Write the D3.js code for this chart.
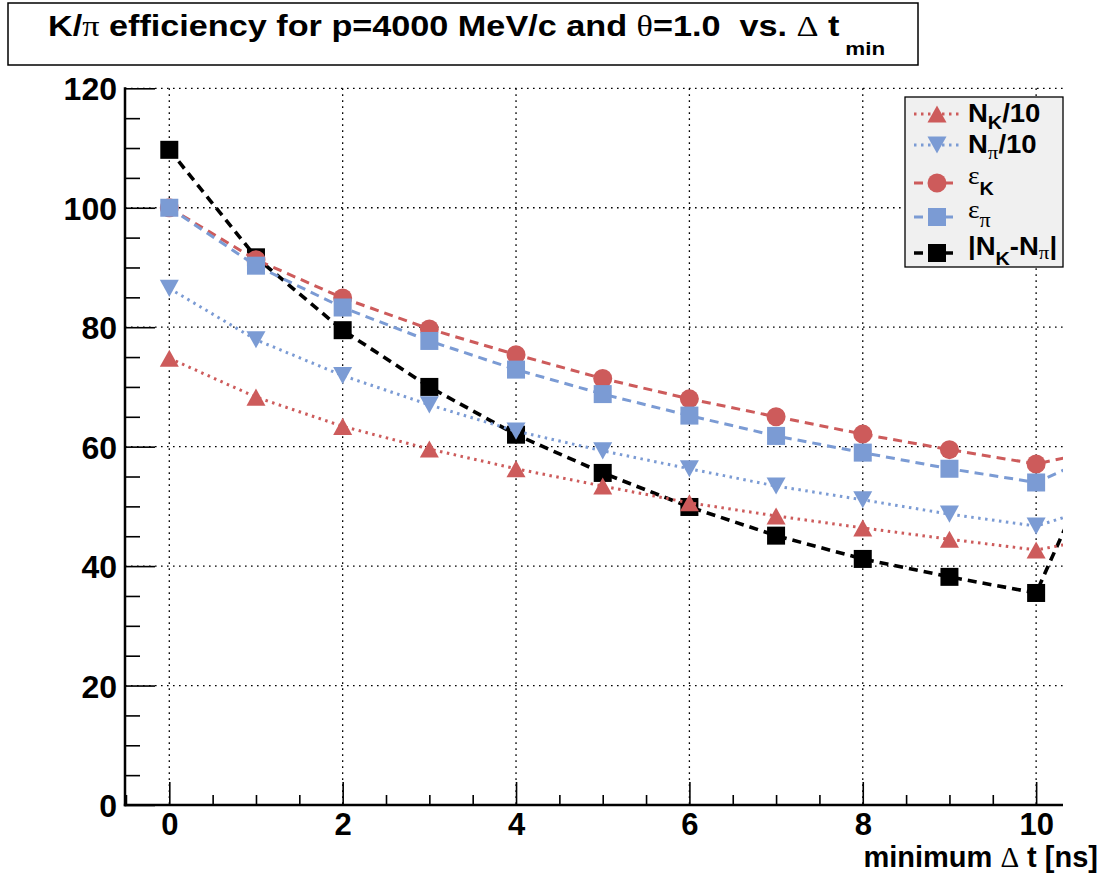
<!DOCTYPE html>
<html>
<head>
<meta charset="utf-8">
<script src="https://d3js.org/d3.v7.min.js"></script>
<style>
  body { margin: 0; background: #fff; }
  text { font-family: "Liberation Sans", Arial, sans-serif; font-weight: bold; white-space: pre; }
  .greek { font-family: "Liberation Serif", "DejaVu Serif", serif; font-weight: normal; }
</style>
</head>
<body>
<svg width="1102" height="878"></svg>
<script>
// Data: delta t cut (ns) and the five curves; the last point lies past the frame edge
const tVals = [0, 1, 2, 3, 4, 5, 6, 7, 8, 9, 10, 11];
const nK10 = [74.8, 68.3, 63.4, 59.6, 56.3, 53.4, 50.6, 48.4, 46.4, 44.5, 42.7, 45.4];
const nPi10 = [86.5, 77.9, 71.9, 67.0, 62.6, 59.3, 56.3, 53.4, 51.1, 48.7, 46.7, 51.2];
const effK = [100, 91.3, 84.9, 79.7, 75.4, 71.4, 68.0, 65.0, 62.1, 59.5, 57.1, 60.2];
const effPi = [100, 90.3, 83.3, 77.7, 72.9, 68.8, 65.2, 61.8, 59.0, 56.3, 54.0, 60.5];
const diffN = [109.7, 91.7, 79.5, 70.0, 62.0, 55.6, 49.9, 45.1, 41.2, 38.2, 35.5, 68.0];

const xTicks = [0, 2, 4, 6, 8, 10];
const yTicks = [0, 20, 40, 60, 80, 100, 120];

const red = "#cd5b5b", blue = "#7b9bd4";

const svg = d3.select("svg");
const frame = { left: 125, right: 1063, top: 88.3, bottom: 805 };

const x = d3.scaleLinear().domain([-0.511, 10.31]).range([frame.left, frame.right]);
const y = d3.scaleLinear().domain([0, 120]).range([frame.bottom, frame.top]);

// Title box (ROOT text is drawn a little wider than Liberation Sans)
svg.append("rect").attr("x", 8).attr("y", 3).attr("width", 910).attr("height", 62)
    .attr("fill", "#fff").attr("stroke", "#000").attr("stroke-width", 1.5);
const title = svg.append("text").attr("transform", "translate(48,36) scale(1.18,1)").attr("font-size", 29);
title.append("tspan").text("K/");
title.append("tspan").attr("class", "greek").text("π");
title.append("tspan").text(" efficiency for p=4000 MeV/c and ");
title.append("tspan").attr("class", "greek").text("θ");
title.append("tspan").text("=1.0  vs. ");
title.append("tspan").attr("class", "greek").text("Δ");
title.append("tspan").text(" t");
title.append("tspan").attr("font-size", 19).attr("dx", 5).attr("dy", 19).text("min");

// Grid
const grid = svg.append("g").attr("stroke", "#000").attr("stroke-width", 1.3)
    .attr("stroke-dasharray", "1.6,4.4");
grid.selectAll(".gx").data(xTicks).enter().append("line")
    .attr("x1", d => x(d)).attr("x2", d => x(d))
    .attr("y1", frame.top).attr("y2", frame.bottom);
grid.selectAll(".gy").data(yTicks.slice(1)).enter().append("line")
    .attr("x1", frame.left).attr("x2", frame.right)
    .attr("y1", d => y(d)).attr("y2", d => y(d));

// Axes: ticks inside the frame
const minorX = d3.range(-0.5, 10.31, 0.5).filter(v => Math.abs(v % 2) > 1e-6);
const minorY = d3.range(5, 120, 5).filter(v => v % 20 !== 0);

function styleAxis(g) {
    g.select(".domain").remove();
    g.selectAll(".tick line").attr("stroke", "#000").attr("stroke-width", 1.6);
}
svg.append("g").attr("transform", `translate(${frame.left},0)`)
    .call(d3.axisRight(y).tickValues(yTicks).tickSize(30).tickFormat(""))
    .call(styleAxis);
svg.append("g").attr("transform", `translate(${frame.left},0)`)
    .call(d3.axisRight(y).tickValues(minorY).tickSize(15).tickFormat(""))
    .call(styleAxis);
svg.append("g").attr("transform", `translate(0,${frame.bottom})`)
    .call(d3.axisTop(x).tickValues(xTicks).tickSize(23).tickFormat(""))
    .call(styleAxis);
svg.append("g").attr("transform", `translate(0,${frame.bottom})`)
    .call(d3.axisTop(x).tickValues(minorX).tickSize(10).tickFormat(""))
    .call(styleAxis);

// Tick labels
const yLab = svg.append("g").attr("transform", `translate(${frame.left},0)`)
    .call(d3.axisLeft(y).tickValues(yTicks).tickSize(0).tickPadding(8).tickFormat(d3.format("d")));
yLab.select(".domain").remove();
yLab.selectAll("text").attr("font-size", 32).attr("font-family", null).attr("fill", "#000")
    .attr("dy", "0.36em");
const xLab = svg.append("g").attr("transform", `translate(0,${frame.bottom})`)
    .call(d3.axisBottom(x).tickValues(xTicks).tickSize(0).tickPadding(8).tickFormat(d3.format("d")));
xLab.select(".domain").remove();
xLab.selectAll("text").attr("font-size", 31).attr("font-family", null).attr("fill", "#000")
    .attr("dy", "0.72em");

// Frame lines (left and bottom only)
svg.append("line").attr("x1", frame.left).attr("x2", frame.left)
    .attr("y1", frame.top - 1).attr("y2", frame.bottom + 1.2)
    .attr("stroke", "#000").attr("stroke-width", 2.5);
svg.append("line").attr("x1", frame.left - 1.2).attr("x2", frame.right)
    .attr("y1", frame.bottom).attr("y2", frame.bottom)
    .attr("stroke", "#000").attr("stroke-width", 2.5);

// X axis title
const xt = svg.append("text").attr("x", 1098).attr("y", 867).attr("text-anchor", "end").attr("font-size", 29);
xt.append("tspan").text("minimum ");
xt.append("tspan").attr("class", "greek").text("Δ");
xt.append("tspan").text(" t [ns]");

// Markers
function marker(sel, shape, size) {
    const h = size / 2;
    if (shape === "circle") {
        sel.append("circle").attr("r", h);
    } else if (shape === "square") {
        sel.append("rect").attr("x", -h).attr("y", -h).attr("width", size).attr("height", size);
    } else if (shape === "up") {
        sel.append("path").attr("d", `M0,${-h * 0.9}L${h},${h * 0.9}L${-h},${h * 0.9}Z`);
    } else {
        sel.append("path").attr("d", `M0,${h * 0.9}L${h},${-h * 0.9}L${-h},${-h * 0.9}Z`);
    }
}

svg.append("clipPath").attr("id", "clip").append("rect")
    .attr("x", frame.left).attr("y", frame.top - 20)
    .attr("width", frame.right - frame.left).attr("height", frame.bottom - frame.top + 20);
const plot = svg.append("g").attr("clip-path", "url(#clip)");

const series = [
    { name: "diff", vals: diffN, color: "#000", dash: "9,6", width: 3.6, shape: "square", size: 18 },
    { name: "nK", vals: nK10, color: red, dash: "2.5,4.5", width: 3, shape: "up", size: 19 },
    { name: "nPi", vals: nPi10, color: blue, dash: "2.5,4.5", width: 3, shape: "down", size: 19 },
    { name: "effK", vals: effK, color: red, dash: "9,6", width: 3, shape: "circle", size: 19 },
    { name: "effPi", vals: effPi, color: blue, dash: "9,6", width: 3, shape: "square", size: 18 }
];

const line = d3.line().x(d => x(d[0])).y(d => y(d[1]));

series.forEach(s => {
    const pts = tVals.map((t, i) => [t, s.vals[i]]);
    plot.append("path").attr("d", line(pts)).attr("fill", "none")
        .attr("stroke", s.color).attr("stroke-width", s.width).attr("stroke-dasharray", s.dash);
    plot.selectAll(null).data(pts).enter().append("g")
        .attr("transform", d => `translate(${x(d[0])},${y(d[1])})`)
        .attr("fill", s.color)
        .each(function () { marker(d3.select(this), s.shape, s.size); });
});

// Legend
const leg = svg.append("g");
leg.append("rect").attr("x", 905).attr("y", 97).attr("width", 158).attr("height", 170)
    .attr("fill", "#f0f0f0").attr("stroke", "#000").attr("stroke-width", 1.3);

const legRows = [
    { s: series[1], cy: 114 },
    { s: series[2], cy: 145 },
    { s: series[3], cy: 183 },
    { s: series[4], cy: 217 },
    { s: series[0], cy: 253 }
];
legRows.forEach(r => {
    leg.append("line").attr("x1", 914).attr("x2", 959).attr("y1", r.cy).attr("y2", r.cy)
        .attr("stroke", r.s.color).attr("stroke-width", r.s.width).attr("stroke-dasharray", r.s.dash);
    const g = leg.append("g").attr("transform", `translate(937,${r.cy})`).attr("fill", r.s.color);
    marker(g, r.s.shape, r.s.size);
});

function legText(cy, parts) {
    const t = leg.append("text").attr("transform", `translate(968,${cy + 8}) scale(1.1,1)`).attr("font-size", 25);
    parts.forEach(p => {
        const ts = t.append("tspan").text(p.t);
        if (p.greek) ts.attr("class", "greek");
        if (p.size) ts.attr("font-size", p.size);
        if (p.dy) ts.attr("dy", p.dy);
    });
}
legText(114, [{ t: "N" }, { t: "K", size: 18, dy: 7 }, { t: "/10", dy: -7 }]);
legText(145, [{ t: "N" }, { t: "π", size: 19, dy: 6, greek: true }, { t: "/10", dy: -6 }]);
legText(176, [{ t: "ε", greek: true, size: 25 }, { t: "K", size: 18, dy: 11 }]);
legText(210, [{ t: "ε", greek: true, size: 25 }, { t: "π", size: 20, dy: 9, greek: true }]);
legText(247, [{ t: "|N" }, { t: "K", size: 18, dy: 10 }, { t: "-N", dy: -10 }, { t: "π", size: 19, dy: 4, greek: true }, { t: "|", dy: -4 }]);
</script>
</body>
</html>
